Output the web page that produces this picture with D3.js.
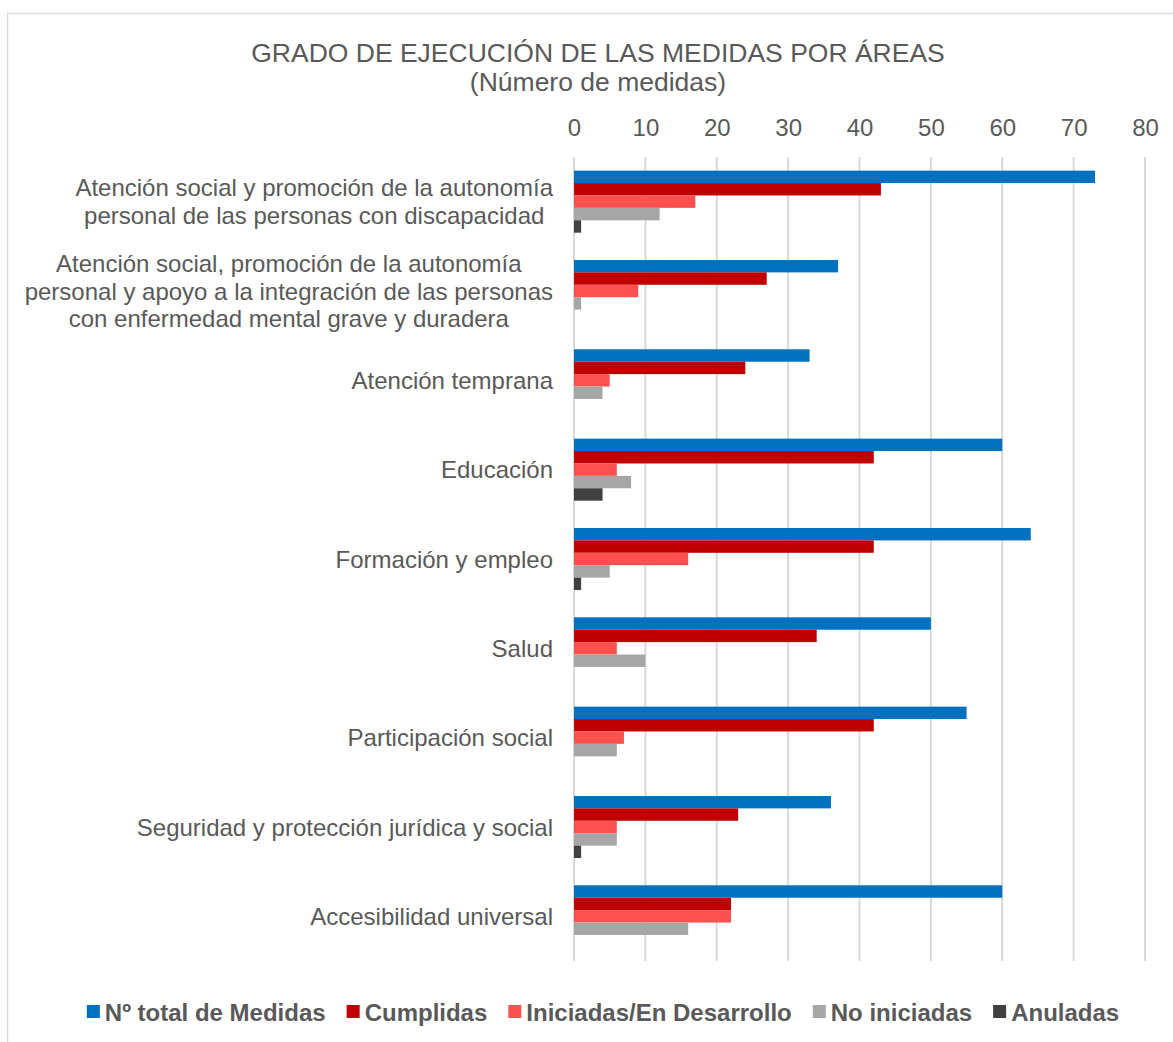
<!DOCTYPE html>
<html>
<head>
<meta charset="utf-8">
<script src="https://cdn.jsdelivr.net/npm/d3@7"></script>
<style>
  html, body { margin: 0; padding: 0; background: #fff; }
  svg { display: block; font-family: "Liberation Sans", Arial, sans-serif; }
</style>
</head>
<body>
<svg id="chart" width="1173" height="1042"></svg>
<script>
// Areas (top to bottom), each already split into the lines shown.
const categories = [
  ['Atención social y promoción de la autonomía', 'personal de las personas con discapacidad'],
  ['Atención social, promoción de la autonomía', 'personal y apoyo a la integración de las personas', 'con enfermedad mental grave y duradera'],
  ['Atención temprana'],
  ['Educación'],
  ['Formación y empleo'],
  ['Salud'],
  ['Participación social'],
  ['Seguridad y protección jurídica y social'],
  ['Accesibilidad universal']
];
const seriesNames = ['Nº total de Medidas', 'Cumplidas', 'Iniciadas/En Desarrollo', 'No iniciadas', 'Anuladas'];
const seriesColors = ['#0070C0', '#C00000', '#FF5050', '#A6A6A6', '#404040'];

const totalMedidas = [73, 37, 33, 60, 64, 50, 55, 36, 60];
const cumplidas    = [43, 27, 24, 42, 42, 34, 42, 23, 22];
const iniciadas    = [17,  9,  5,  6, 16,  6,  7,  6, 22];
const noIniciadas  = [12,  1,  4,  8,  5, 10,  6,  6, 16];
const anuladas     = [ 1,  0,  0,  4,  1,  0,  0,  1,  0];
const seriesValues = [totalMedidas, cumplidas, iniciadas, noIniciadas, anuladas];

const xTicks = [0, 10, 20, 30, 40, 50, 60, 70, 80];

const svg = d3.select('#chart');
const textColor = '#595959';
const gridColor = '#D9D9D9';

// Chart frame (runs off the right and bottom edges).
svg.append('rect')
  .attr('x', 7.5).attr('y', 13.5)
  .attr('width', 1200).attr('height', 1100)
  .attr('fill', 'none')
  .attr('stroke', gridColor)
  .attr('stroke-width', 1.5);

// Title
svg.append('text')
  .attr('x', 598).attr('y', 62)
  .attr('text-anchor', 'middle')
  .attr('font-size', 26.5)
  .attr('fill', textColor)
  .text('GRADO DE EJECUCIÓN DE LAS MEDIDAS POR ÁREAS');
svg.append('text')
  .attr('x', 598).attr('y', 91)
  .attr('text-anchor', 'middle')
  .attr('font-size', 26.5)
  .attr('fill', textColor)
  .text('(Número de medidas)');

const plot = { left: 574, right: 1145, top: 157, bottom: 961 };

const x = d3.scaleLinear().domain([0, 80]).range([plot.left, plot.right]);
const idx = d3.range(categories.length);
const y0 = d3.scaleBand().domain(idx).range([plot.top, plot.bottom]).padding(0);
const y1 = d3.scaleBand().domain(d3.range(seriesNames.length))
  .range([0, y0.bandwidth()]).paddingInner(0).paddingOuter(1.1);

// Top tick labels
const xAxis = d3.axisTop(x).tickValues(xTicks).tickSize(0).tickPadding(0);
const axisG = svg.append('g')
  .attr('transform', `translate(0,${plot.top})`)
  .call(xAxis);
axisG.select('.domain').remove();
axisG.selectAll('text')
  .attr('y', 136 - plot.top)
  .attr('dy', 0)
  .attr('font-size', 24)
  .attr('font-family', '"Liberation Sans", Arial, sans-serif')
  .attr('fill', textColor);

// Vertical gridlines
svg.append('g')
  .selectAll('line')
  .data(xTicks)
  .join('line')
  .attr('x1', (d) => x(d)).attr('x2', (d) => x(d))
  .attr('y1', plot.top).attr('y2', plot.bottom)
  .attr('stroke', gridColor)
  .attr('stroke-width', 2);

// Bars
const groups = svg.append('g')
  .selectAll('g')
  .data(idx)
  .join('g')
  .attr('transform', (i) => `translate(0,${y0(i)})`);

groups.selectAll('rect')
  .data((i) => seriesValues.map((vals, s) => ({ s, v: vals[i] })))
  .join('rect')
  .attr('x', x(0))
  .attr('y', (d) => y1(d.s))
  .attr('width', (d) => x(d.v) - x(0))
  .attr('height', y1.bandwidth())
  .attr('fill', (d) => seriesColors[d.s]);

// Category labels (lines centred within a block aligned to the right)
const lineH = 27.6;
const labelRight = 553;
const labelG = svg.append('g').attr('font-size', 24).attr('fill', textColor);
categories.forEach((lines, i) => {
  const cy = y0(i) + y0.bandwidth() / 2;
  const t = labelG.append('text').attr('text-anchor', 'middle');
  const spans = lines.map((ln, k) =>
    t.append('tspan')
      .attr('y', cy + (k - (lines.length - 1) / 2) * lineH + 8.5)
      .text(ln)
  );
  const maxW = d3.max(spans, (sp) => sp.node().getComputedTextLength());
  spans.forEach((sp) => sp.attr('x', labelRight - maxW / 2));
});

// Legend
const legendY = 1021;
const sq = 13;
const gap = 21;
const legendG = svg.append('g').attr('font-size', 24).attr('font-weight', 'bold').attr('fill', textColor);
let cursor = 0;
const items = seriesNames.map((name, s) => {
  const g = legendG.append('g');
  g.append('rect')
    .attr('x', 0).attr('y', legendY - 16)
    .attr('width', sq).attr('height', sq)
    .attr('fill', seriesColors[s]);
  const t = g.append('text').attr('x', sq + 5).attr('y', legendY).text(name);
  const w = sq + 5 + t.node().getComputedTextLength();
  const item = { g, off: cursor };
  cursor += w + gap;
  return item;
});
const totalW = cursor - gap;
const startX = 603 - totalW / 2;
items.forEach((it) => it.g.attr('transform', `translate(${startX + it.off},0)`));
</script>
</body>
</html>
